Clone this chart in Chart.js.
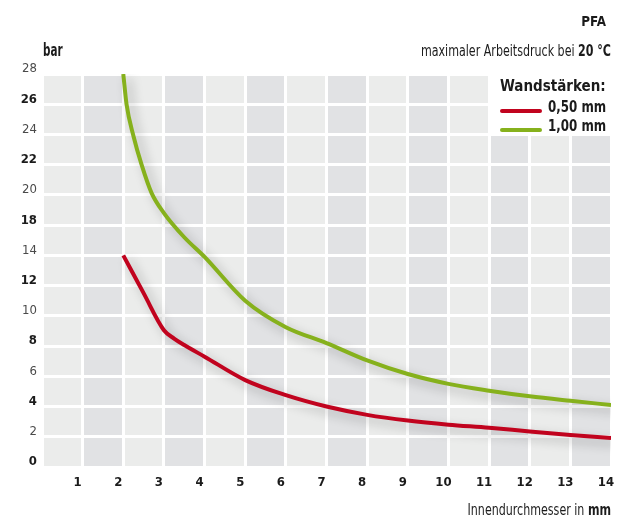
<!DOCTYPE html>
<html lang="de">
<head>
<meta charset="utf-8">
<title>PFA – maximaler Arbeitsdruck</title>
<script src="https://cdn.jsdelivr.net/npm/chart.js@4/dist/chart.umd.min.js"></script>
<style>
  html, body { margin: 0; padding: 0; background: #fff; }
  #rahmen { position: relative; width: 622px; height: 519px; }
</style>
</head>
<body>
<div id="rahmen"><canvas id="grafik" width="622" height="519"></canvas></div>
<script>
// Innendurchmesser (mm) und Druck in Achseneinheiten (ab 16 ist die Achse um 2 verschoben beschriftet)
const xDuenn = [2, 2.5, 3, 3.25, 3.5, 4, 5, 6, 7, 8, 9, 10, 11, 12, 13, 14];
const druckDuenn = [14, 11.5, 9.05, 8.5, 8.07, 7.3, 5.75, 4.75, 4.0, 3.45, 3.07, 2.8, 2.6, 2.35, 2.12, 1.92];

const xDick = [2, 2.08, 2.25, 2.45, 2.7, 3, 3.5, 4, 5, 6, 7, 8, 9, 10, 11, 12, 13, 14];
const druckDick = [26, 24, 21.9, 20, 18.1, 16.8, 15.2, 13.9, 11.0, 9.25, 8.2, 7.05, 6.15, 5.5, 5.05, 4.68, 4.38, 4.1];

const xTicks = ['', '1', '2', '3', '4', '5', '6', '7', '8', '9', '10', '11', '12', '13', '14'];
const yTicks = ['0', '2', '4', '6', '8', '10', '12', '14', '18', '20', '22', '24', '26', '28'];

const serien = [
  { label: '0,50 mm', kleur: '#c1031e', x: xDuenn, y: druckDuenn },
  { label: '1,00 mm', kleur: '#86b11c', x: xDick, y: druckDick },
];

const schrift = '"Liberation Sans Narrow", "DejaVu Sans Condensed", "Roboto Condensed", "DejaVu Sans", sans-serif';
const tekst = '#1b1b1b';

const spalten = {
  id: 'spalten',
  beforeDraw(chart) {
    const { ctx, chartArea, scales } = chart;
    ctx.save();
    for (let i = 0; i < 14; i++) {
      const links = scales.x.getPixelForValue(i);
      const rechts = scales.x.getPixelForValue(i + 1);
      ctx.fillStyle = i % 2 === 0 ? '#ebeceb' : '#e1e2e4';
      ctx.fillRect(links, chartArea.top, rechts - links, chartArea.bottom - chartArea.top);
    }
    // weisses Feld hinter der Legende
    const lx = scales.x.getPixelForValue(11);
    const ly = scales.y.getPixelForValue(22);
    ctx.fillStyle = '#ffffff';
    ctx.fillRect(lx, chartArea.top - 1, chartArea.right - lx + 2, ly - chartArea.top + 1);
    ctx.restore();
  },
};

const schatten = {
  id: 'schatten',
  beforeDatasetDraw(chart) {
    const ctx = chart.ctx;
    ctx.save();
    ctx.shadowColor = 'rgba(0, 0, 0, 0.28)';
    ctx.shadowBlur = 11;
    ctx.shadowOffsetX = 5;
    ctx.shadowOffsetY = 5;
  },
  afterDatasetDraw(chart) {
    chart.ctx.restore();
  },
};

// teile: [tekst, vet, grootte]; schmal = horizontale Stauchung, weil keine schmale Schrift da ist
function schreib(ctx, teile, x, y, uitlijning, schmal) {
  const maat = ([t, vet, grootte]) => {
    ctx.font = `${vet ? 'bold ' : ''}${grootte}px ${schrift}`;
    return ctx.measureText(t).width;
  };
  const breedte = teile.reduce((som, deel) => som + maat(deel), 0) * schmal;
  let start = uitlijning === 'right' ? x - breedte : x;
  ctx.save();
  ctx.translate(start, y);
  ctx.scale(schmal, 1);
  let pos = 0;
  teile.forEach(deel => {
    const w = maat(deel);
    ctx.fillText(deel[0], pos, 0);
    pos += w;
  });
  ctx.restore();
}

const beschriftung = {
  id: 'beschriftung',
  afterDraw(chart) {
    const { ctx, chartArea } = chart;
    ctx.save();
    ctx.fillStyle = tekst;
    ctx.textBaseline = 'middle';
    ctx.textAlign = 'left';

    schreib(ctx, [['PFA', true, 14]], chartArea.right - 5, 22, 'right', 0.95);
    schreib(ctx, [['maximaler Arbeitsdruck bei ', false, 16], ['20 °C', true, 16]], chartArea.right, 52, 'right', 0.77);
    schreib(ctx, [['Innendurchmesser in ', false, 16], ['mm', true, 16]], chartArea.right, 511, 'right', 0.77);
    schreib(ctx, [['bar', true, 17]], 43, 52, 'left', 0.68);

    // Legende
    schreib(ctx, [['Wandstärken:', true, 15]], 500, 87, 'left', 1.0);
    serien.forEach((serie, i) => {
      const y = 110 + i * 19;
      ctx.strokeStyle = serie.kleur;
      ctx.lineWidth = 4;
      ctx.lineCap = 'round';
      ctx.beginPath();
      ctx.moveTo(502, y + 1);
      ctx.lineTo(540, y + 1);
      ctx.stroke();
      schreib(ctx, [[serie.label, true, 15]], 548, y - 2, 'left', 0.88);
    });
    ctx.restore();
  },
};

new Chart(document.getElementById('grafik'), {
  type: 'line',
  data: {
    datasets: serien.map(serie => ({
      label: serie.label,
      data: serie.x.map((x, i) => ({ x, y: serie.y[i] })),
      borderColor: serie.kleur,
      borderWidth: 4,
      pointRadius: 0,
      cubicInterpolationMode: 'monotone',
      fill: false,
    })),
  },
  options: {
    responsive: false,
    animation: false,
    layout: { padding: { top: 74, right: 11, bottom: 0, left: 0 } },
    plugins: { legend: { display: false }, tooltip: { enabled: false } },
    scales: {
      x: {
        type: 'linear',
        min: 0,
        max: 14,
        afterFit: scale => {
          scale.height = 52;
          scale.paddingLeft = 0;
          scale.paddingRight = 0;
        },
        border: { display: false },
        grid: { color: '#ffffff', lineWidth: 3, drawTicks: false },
        ticks: {
          stepSize: 1,
          padding: 8,
          labelOffset: -5,
          color: tekst,
          font: { family: schrift, size: 13, weight: 'bold' },
          callback: value => xTicks[value] ?? '',
        },
      },
      y: {
        min: 0,
        max: 26,
        afterFit: scale => {
          scale.width = 42;
          scale.paddingTop = 0;
          scale.paddingBottom = 0;
        },
        border: { display: false },
        grid: { color: '#ffffff', lineWidth: 3, drawTicks: false },
        ticks: {
          stepSize: 2,
          padding: 5,
          labelOffset: -5,
          color: ctx => (ctx.index % 2 === 0 ? tekst : '#4a4a4a'),
          font: ctx => ({ family: schrift, size: 13, weight: ctx.index % 2 === 0 ? 'bold' : 'normal' }),
          callback: value => yTicks[value / 2] ?? '',
        },
      },
    },
  },
  plugins: [spalten, schatten, beschriftung],
});
</script>
</body>
</html>
